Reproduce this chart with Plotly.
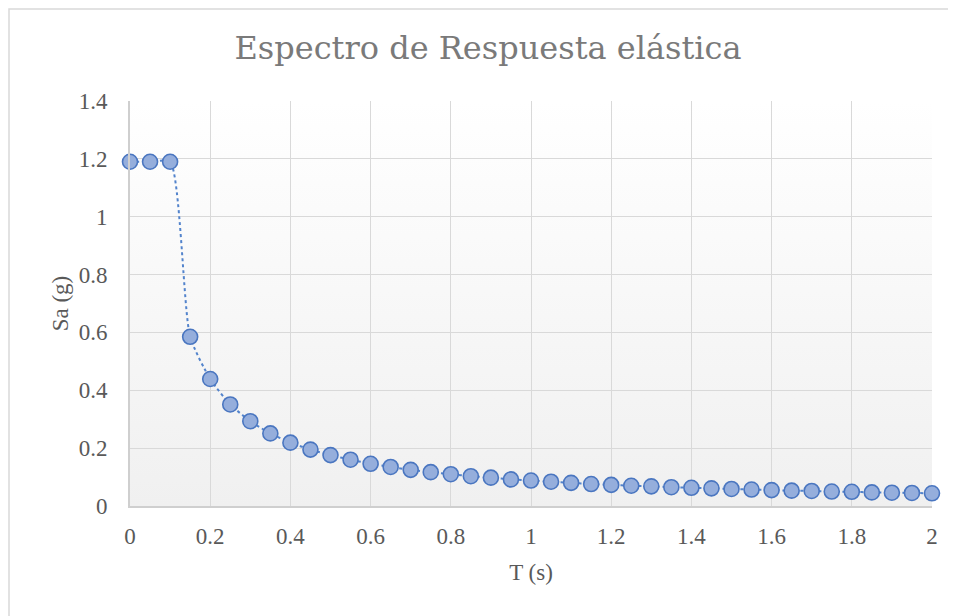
import base64
import plotly.graph_objects as go

T_s = [0.0, 0.05, 0.10, 0.15, 0.20, 0.25, 0.30, 0.35, 0.40, 0.45, 0.50,
       0.55, 0.60, 0.65, 0.70, 0.75, 0.80, 0.85, 0.90, 0.95, 1.00,
       1.05, 1.10, 1.15, 1.20, 1.25, 1.30, 1.35, 1.40, 1.45, 1.50,
       1.55, 1.60, 1.65, 1.70, 1.75, 1.80, 1.85, 1.90, 1.95, 2.00]
Sa_g = [1.190, 1.190, 1.190, 0.585, 0.439, 0.351, 0.293, 0.251, 0.219, 0.195, 0.176,
        0.160, 0.146, 0.135, 0.125, 0.117, 0.110, 0.103, 0.098, 0.092, 0.088,
        0.084, 0.080, 0.076, 0.073, 0.070, 0.068, 0.065, 0.063, 0.061, 0.059,
        0.057, 0.055, 0.053, 0.052, 0.050, 0.049, 0.047, 0.046, 0.045, 0.044]

x_ticks = [0, 0.2, 0.4, 0.6, 0.8, 1, 1.2, 1.4, 1.6, 1.8, 2]
x_tick_text = ["0", "0.2", "0.4", "0.6", "0.8", "1", "1.2", "1.4", "1.6", "1.8", "2"]
y_ticks = [0, 0.2, 0.4, 0.6, 0.8, 1, 1.2, 1.4]
y_tick_text = ["0", "0.2", "0.4", "0.6", "0.8", "1", "1.2", "1.4"]

FONT = "Liberation Serif"
TITLE_FONT = "DejaVu Serif"
TXT = "#595959"
GRID = "#d9d9d9"

svg = ('<svg xmlns="http://www.w3.org/2000/svg" width="100" height="100" preserveAspectRatio="none">'
       '<defs><linearGradient id="g" x1="0" y1="0" x2="0" y2="1">'
       '<stop offset="0" stop-color="#ffffff"/><stop offset="1" stop-color="#f0f0f0"/>'
       '</linearGradient></defs><rect width="100" height="100" fill="url(#g)"/></svg>')
bg_src = "data:image/svg+xml;base64," + base64.b64encode(svg.encode()).decode()

# page body has an 8px offset; plot area target: x 130..932, y 101..506 on screen
L, T_, PW, PH = 122, 93, 802, 405

fig = go.Figure()
fig.add_trace(go.Scatter(
    x=T_s, y=Sa_g, mode="lines+markers", cliponaxis=False,
    line=dict(color="#5283cc", width=2, dash="dot", shape="spline", smoothing=0.6),
    marker=dict(size=15, color="#95aedc", line=dict(color="#4a76c0", width=1.6)),
    showlegend=False,
))

fig.update_layout(
    width=956, height=616,
    margin=dict(l=L, r=956 - L - PW, t=T_, b=616 - T_ - PH),
    paper_bgcolor="white", plot_bgcolor="rgba(0,0,0,0)",
    font=dict(family=FONT, color=TXT, size=23),
    title=dict(text="Espectro de Respuesta elástica", x=(488 - 8) / 956, xanchor="center",
               y=1 - 40 / 616, yanchor="middle", yref="container", xref="container",
               font=dict(family=TITLE_FONT, size=32, color="#7a7a7a")),
    xaxis=dict(range=[0, 2], tickvals=x_ticks, ticktext=x_tick_text,
               showgrid=True, gridcolor=GRID, gridwidth=1.3,
               showline=True, linecolor="#cfcfcf", linewidth=2,
               ticks="outside", ticklen=8, tickcolor="rgba(0,0,0,0)",
               zeroline=False, tickfont=dict(size=23, color=TXT),
               title=dict(text="T (s)", font=dict(size=23, color=TXT), standoff=16)),
    yaxis=dict(range=[0, 1.4], tickvals=y_ticks, ticktext=y_tick_text,
               showgrid=True, gridcolor=GRID, gridwidth=1.3,
               showline=True, linecolor="#cfcfcf", linewidth=2,
               ticks="outside", ticklen=16, tickcolor="rgba(0,0,0,0)",
               zeroline=False, tickfont=dict(size=23, color=TXT),
               title=dict(text="Sa (g)", font=dict(size=23, color=TXT), standoff=4)),
    images=[dict(source=bg_src, xref="paper", yref="paper", x=0, y=1,
                 sizex=1, sizey=1, sizing="stretch", layer="below",
                 xanchor="left", yanchor="top")],
    shapes=[dict(type="rect", xref="paper", yref="paper",
                 x0=(1 - L) / PW, x1=(970 - L) / PW,
                 y0=-0.4, y1=(T_ + PH - 1) / PH,
                 line=dict(color="#d9d9d9", width=1.5), fillcolor="rgba(0,0,0,0)",
                 layer="below")],
)

fig.write_html("out.html")
